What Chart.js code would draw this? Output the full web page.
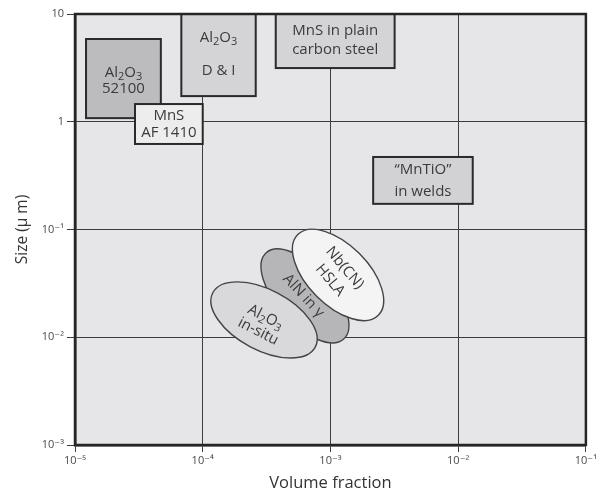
<!DOCTYPE html>
<html>
<head>
<meta charset="utf-8">
<script src="https://cdn.jsdelivr.net/npm/chart.js@4/dist/chart.umd.min.js"></script>
<style>
  html, body { margin: 0; padding: 0; background: #ffffff; }
  #wrap { width: 599px; height: 493px; }
</style>
</head>
<body>
<div id="wrap"><canvas id="c" width="599" height="493"></canvas></div>
<script>
// ---------- data ----------
const xTicks = [1e-5, 1e-4, 1e-3, 1e-2, 1e-1];
const xTickLabels = ['10⁻⁵', '10⁻⁴', '10⁻³', '10⁻²', '10⁻¹'];
const yTicks = [1e-3, 1e-2, 1e-1, 1, 10];
const yTickLabels = ['10⁻³', '10⁻²', '10⁻¹', '1', '10'];

// rectangular regions (volume fraction range, size range in µm)
const boxLabels = [
  ['Al_2O_3', '52100'],
  ['Al_2O_3', 'D & I'],
  ['MnS in plain', 'carbon steel'],
  ['“MnTiO”', 'in welds'],
  ['MnS', 'AF 1410']
];
const boxXMin = [1.22e-5, 6.8e-5, 3.73e-4, 2.16e-3, 2.95e-5];
const boxXMax = [4.7e-5, 2.6e-4, 3.18e-3, 1.30e-2, 1.0e-4];
const boxYMin = [1.08, 1.73, 3.15, 0.173, 0.622];
const boxYMax = [5.86, 10, 10, 0.471, 1.46];

// elliptical regions: major-axis end points (volume fraction, size) and minor/major ratio
const ellipseLabels = [
  ['AlN in γ'],
  ['Nb(CN)', 'HSLA'],
  ['Al_2O_3', 'in-situ']
];
const ellipseX1 = [3.14e-4, 5.55e-4, 1.20e-4];
const ellipseY1 = [0.0608, 0.0897, 0.0259];
const ellipseX2 = [1.27e-3, 2.37e-3, 7.6e-4];
const ellipseY2 = [0.00964, 0.0160, 0.0081];
const ellipseRatio = [0.48, 0.53, 0.52];

// ---------- styles ----------
const FONT = '"Open Sans", "DejaVu Sans", sans-serif';
const TEXT = '#3b3b3b';
const boxFill = ['#bcbcbe', '#d4d4d6', '#d4d4d6', '#d2d2d4', '#ededee'];
const boxLineGap = [[-6, 10], [-17, 16], [-10, 9], [-11, 11], [-8, 9]];
const ellipseFill = ['#b6b6b8', '#f4f4f5', '#d9d9db'];
const ellipseTextAngle = [47, 50, 27];
const ellipseTextShift = [[-1, 1], [-1, 0], [0, 5]];
const ellipseLineGap = [[0], [-9.5, 9.5], [-8, 8]];

function drawRich(ctx, text, cx, cy, size) {
  // supports "_2" subscripts
  const parts = [];
  let i = 0;
  while (i < text.length) {
    if (text[i] === '_' && i + 1 < text.length) { parts.push({t: text[i+1], sub: true}); i += 2; }
    else { parts.push({t: text[i], sub: false}); i++; }
  }
  const big = size + 'px ' + FONT, small = Math.round(size * 0.72) + 'px ' + FONT;
  let w = 0;
  parts.forEach(p => { ctx.font = p.sub ? small : big; p.w = ctx.measureText(p.t).width; w += p.w; });
  let x = cx - w / 2;
  ctx.textAlign = 'left';
  ctx.textBaseline = 'middle';
  parts.forEach(p => {
    ctx.font = p.sub ? small : big;
    ctx.fillText(p.t, x, cy + (p.sub ? size * 0.28 : 0));
    x += p.w;
  });
}

const regionPlugin = {
  id: 'regions',
  beforeDraw(chart) {
    const {ctx, chartArea: a} = chart;
    ctx.save();
    ctx.fillStyle = '#e6e6e8';
    ctx.fillRect(a.left, a.top, a.right - a.left, a.bottom - a.top);
    ctx.restore();
  },
  afterDatasetsDraw(chart) {
    const {ctx, scales: {x, y}} = chart;
    ctx.save();
    // ellipses
    for (let i = 0; i < ellipseLabels.length; i++) {
      const x1 = x.getPixelForValue(ellipseX1[i]), y1 = y.getPixelForValue(ellipseY1[i]);
      const x2 = x.getPixelForValue(ellipseX2[i]), y2 = y.getPixelForValue(ellipseY2[i]);
      const cx = (x1 + x2) / 2, cy = (y1 + y2) / 2;
      const ra = Math.hypot(x2 - x1, y2 - y1) / 2;
      const rb = ra * ellipseRatio[i];
      const ang = Math.atan2(y2 - y1, x2 - x1);
      ctx.beginPath();
      ctx.ellipse(cx, cy, ra, rb, ang, 0, Math.PI * 2);
      ctx.fillStyle = ellipseFill[i];
      ctx.fill();
      ctx.lineWidth = 1.4;
      ctx.strokeStyle = '#444446';
      ctx.stroke();
      ctx.save();
      ctx.translate(cx, cy);
      ctx.rotate(ellipseTextAngle[i] * Math.PI / 180);
      ctx.fillStyle = TEXT;
      ellipseLabels[i].forEach((line, k) => {
        drawRich(ctx, line, ellipseTextShift[i][0], ellipseTextShift[i][1] + ellipseLineGap[i][k], 15);
      });
      ctx.restore();
    }
    // boxes
    for (let i = 0; i < boxLabels.length; i++) {
      const l = x.getPixelForValue(boxXMin[i]), r = x.getPixelForValue(boxXMax[i]);
      const t = y.getPixelForValue(boxYMax[i]), b = y.getPixelForValue(boxYMin[i]);
      ctx.fillStyle = boxFill[i];
      ctx.fillRect(l, t, r - l, b - t);
      ctx.lineWidth = 2;
      ctx.strokeStyle = '#2a2a2a';
      ctx.strokeRect(l, t, r - l, b - t);
      ctx.fillStyle = TEXT;
      const cx = (l + r) / 2, cy = (t + b) / 2;
      boxLabels[i].forEach((line, k) => drawRich(ctx, line, cx, cy + boxLineGap[i][k], 15));
    }
    ctx.restore();
  },
  afterDraw(chart) {
    const {ctx, chartArea: a} = chart;
    ctx.save();
    ctx.lineWidth = 2.5;
    ctx.strokeStyle = '#262626';
    ctx.strokeRect(a.left, a.top, a.right - a.left, a.bottom - a.top);
    ctx.restore();
  }
};

new Chart(document.getElementById('c'), {
  type: 'scatter',
  data: { datasets: [{ data: [], showLine: false }] },
  options: {
    responsive: false,
    animation: false,
    layout: { padding: { left: 0, top: 14, right: 13, bottom: 0 } },
    plugins: { legend: { display: false }, tooltip: { enabled: false } },
    scales: {
      x: {
        type: 'logarithmic', min: 1e-5, max: 1e-1,
        afterBuildTicks(s) { s.ticks = xTicks.map(v => ({ value: v })); },
        afterFit(s) { s.height = 48; },
        ticks: {
          autoSkip: false, maxRotation: 0, padding: 2, color: '#4a4a4a',
          font: { family: FONT, size: 11 },
          callback: (v, i) => xTickLabels[i]
        },
        grid: { color: '#3c3c3c', lineWidth: 1, tickLength: 7 },
        border: { color: '#262626', width: 2.5 },
        title: { display: true, text: 'Volume fraction', color: '#333', font: { family: FONT, size: 16.5 }, padding: { top: 0, bottom: 0 } }
      },
      y: {
        type: 'logarithmic', min: 1e-3, max: 10,
        afterBuildTicks(s) { s.ticks = yTicks.map(v => ({ value: v })); },
        afterFit(s) { s.width = 75; },
        ticks: {
          autoSkip: false, padding: 3, color: '#4a4a4a',
          font: { family: FONT, size: 11 },
          callback: (v, i) => yTickLabels[i]
        },
        grid: { color: '#3c3c3c', lineWidth: 1, tickLength: 8 },
        border: { color: '#262626', width: 2.5 },
        title: { display: true, text: 'Size (μ m)', color: '#333', font: { family: FONT, size: 15.5 }, padding: { top: 13, bottom: 0 } }
      }
    }
  },
  plugins: [regionPlugin]
});
</script>
</body>
</html>
